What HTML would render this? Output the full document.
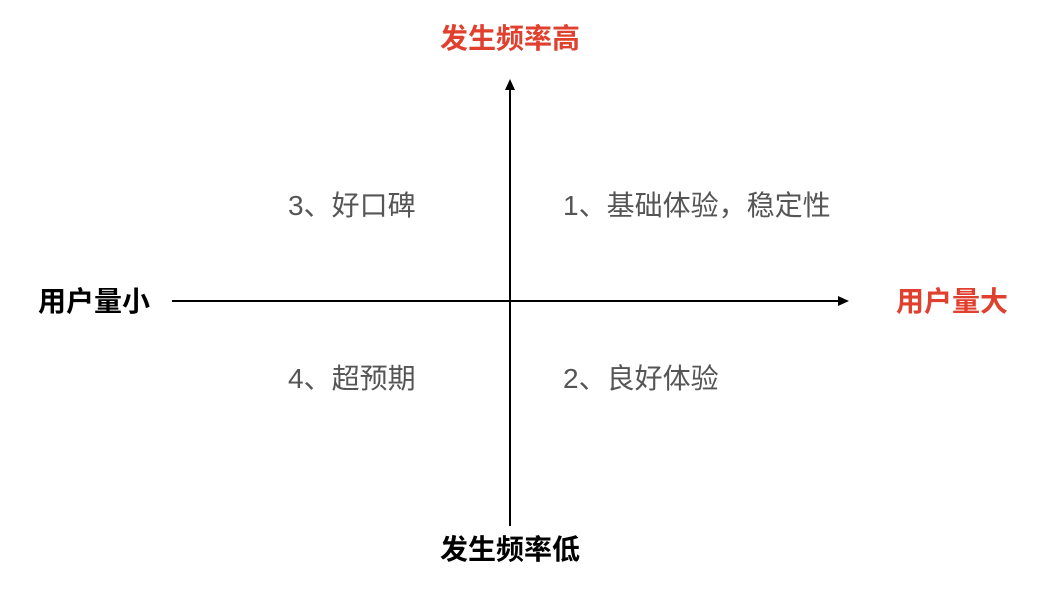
<!DOCTYPE html>
<html><head><meta charset="utf-8"><style>
body{margin:0;width:1044px;height:592px;background:#fff;position:relative;overflow:hidden;font-family:"Liberation Sans","Noto Sans CJK SC",sans-serif}
.t{position:absolute;white-space:nowrap;line-height:1}
.b{font-size:28px;font-weight:bold}
.r{color:#e0402e}
.k{color:#000}
.g{font-size:28px;color:#555}
</style></head><body>
<svg width="1044" height="592" style="position:absolute;left:0;top:0">
<line x1="172" y1="301" x2="840" y2="301" stroke="#000" stroke-width="2"/>
<polygon points="849,301 838,296 838,306" fill="#000"/>
<line x1="510" y1="88" x2="510" y2="526" stroke="#000" stroke-width="2"/>
<polygon points="510,79 505,90 515,90" fill="#000"/>
</svg>
<div class="t b r" style="left:440px;top:25px">发生频率高</div>
<div class="t b k" style="left:440px;top:536px">发生频率低</div>
<div class="t b k" style="left:38px;top:288px">用户量小</div>
<div class="t b r" style="left:896px;top:288px">用户量大</div>
<div class="t g" style="left:288px;top:192px">3、好口碑</div>
<div class="t g" style="left:563px;top:192px">1、基础体验，稳定性</div>
<div class="t g" style="left:288px;top:365px">4、超预期</div>
<div class="t g" style="left:563px;top:365px">2、良好体验</div>
</body></html>
